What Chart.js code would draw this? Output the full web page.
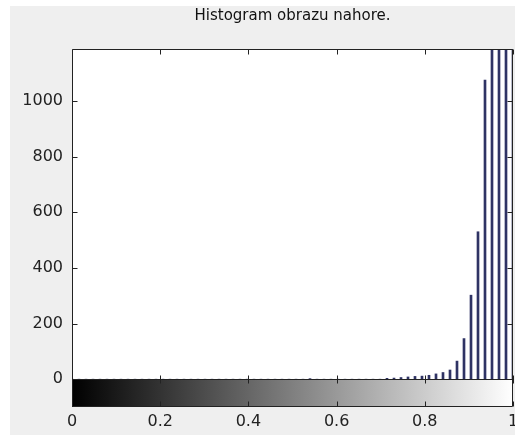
<!DOCTYPE html>
<html>
<head>
<meta charset="utf-8">
<script src="https://cdn.jsdelivr.net/npm/chart.js@4.4.0/dist/chart.umd.min.js"></script>
<style>
html, body { margin: 0; padding: 0; background: #fff; }
#fig { position: absolute; left: 10px; top: 6px; width: 505px; height: 429px; background: #efefef; }
</style>
</head>
<body>
<div id="fig"><canvas id="chart"></canvas></div>
<script>
const chartTitle = 'Histogram obrazu nahore.';
// 64 bins, counts (last four run off the top)
const counts = [
    0, 0, 0, 0, 0, 0, 0, 0, 0, 0, 0, 0, 0, 0, 0, 0,
    0, 0, 0, 0, 0, 0, 0, 0, 0, 0, 0, 0, 0, 0, 0, 0,
    0, 0, 2, 0, 0, 0, 0, 0, 0, 0, 0, 0, 0, 3, 4, 6,
    8, 10, 11, 14, 19, 24, 33, 65, 146, 302, 530, 1075, 1500, 1900, 2300, 2600
];
const xTicks = [0, 0.2, 0.4, 0.6, 0.8, 1];
const yTicks = [0, 200, 400, 600, 800, 1000];
const yLimits = [-100, 1187];

const axisFont = { family: '"DejaVu Sans"', size: 16 };

// MATLAB-ish frame: white axes, grey colour bar under zero, inward ticks
const matlabAxes = {
    id: 'matlabAxes',
    beforeDatasetsDraw(chart) {
        const { ctx, chartArea: a, scales: { y } } = chart;
        const y0 = y.getPixelForValue(0);
        ctx.save();
        ctx.fillStyle = '#fff';
        ctx.fillRect(a.left, a.top, a.right - a.left, y0 - a.top);
        const g = ctx.createLinearGradient(a.left, 0, a.right, 0);
        g.addColorStop(0, '#000');
        g.addColorStop(1, '#fff');
        ctx.fillStyle = g;
        ctx.fillRect(a.left, y0, a.right - a.left, a.bottom - y0);
        ctx.restore();
    },
    afterDatasetsDraw(chart) {
        const { ctx, chartArea: a, scales: { x, y } } = chart;
        const y0 = Math.round(y.getPixelForValue(0)) + 0.5;
        const L = Math.round(a.left) + 0.5, R = Math.round(a.right) - 0.5;
        const T = Math.round(a.top) + 0.5, B = Math.round(a.bottom) - 0.5;
        ctx.save();
        ctx.strokeStyle = '#222';
        ctx.lineWidth = 1;
        ctx.beginPath();
        ctx.rect(L, T, R - L, B - T);
        ctx.moveTo(L, y0);
        ctx.lineTo(R, y0);
        xTicks.forEach(v => {
            const px = Math.round(x.getPixelForValue(v)) + 0.5;
            ctx.moveTo(px, T); ctx.lineTo(px, T + 5);
            ctx.moveTo(px, y0 - 4); ctx.lineTo(px, y0 + 4);
            ctx.moveTo(px, B); ctx.lineTo(px, B - 5);
        });
        yTicks.forEach(v => {
            const py = Math.round(y.getPixelForValue(v)) + 0.5;
            ctx.moveTo(L, py); ctx.lineTo(L + 5, py);
            ctx.moveTo(R, py); ctx.lineTo(R - 5, py);
        });
        ctx.stroke();
        ctx.fillStyle = '#111';
        ctx.font = '15px "DejaVu Sans"';
        ctx.textAlign = 'center';
        ctx.textBaseline = 'middle';
        ctx.fillText(chartTitle, (a.left + a.right) / 2, 10);
        ctx.restore();
    }
};

const ctx = document.getElementById('chart').getContext('2d');
const histChart = new Chart(ctx, {
    type: 'bar',
    data: {
        datasets: [{
            data: counts.map((c, i) => ({ x: i / (counts.length - 1), y: c })),
            backgroundColor: '#2f3364',
            barThickness: 2
        }]
    },
    options: {
        responsive: true,
        maintainAspectRatio: false,
        animation: false,
        layout: { padding: { top: 43, right: 2, left: 0, bottom: 0 } },
        plugins: { legend: { display: false }, tooltip: { enabled: false }, title: { display: false } },
        scales: {
            x: {
                type: 'linear',
                offset: false,
                min: 0,
                max: 1,
                grid: { display: false, drawTicks: false },
                border: { display: false },
                afterBuildTicks: s => { s.ticks = xTicks.map(v => ({ value: v })); },
                afterFit: s => { s.height = 28; s.paddingLeft = 0; s.paddingRight = 0; },
                ticks: { font: axisFont, color: '#222', padding: 5, maxRotation: 0, autoSkip: false,
                    callback: v => String(v) }
            },
            y: {
                min: yLimits[0],
                max: yLimits[1],
                grid: { display: false, drawTicks: false },
                border: { display: false },
                afterBuildTicks: s => { s.ticks = yTicks.map(v => ({ value: v })); },
                afterFit: s => { s.width = 62; s.paddingTop = 0; s.paddingBottom = 0; },
                ticks: { font: axisFont, color: '#222', padding: 9, callback: v => String(v) }
            }
        }
    },
    plugins: [matlabAxes]
});
</script>
</body>
</html>
